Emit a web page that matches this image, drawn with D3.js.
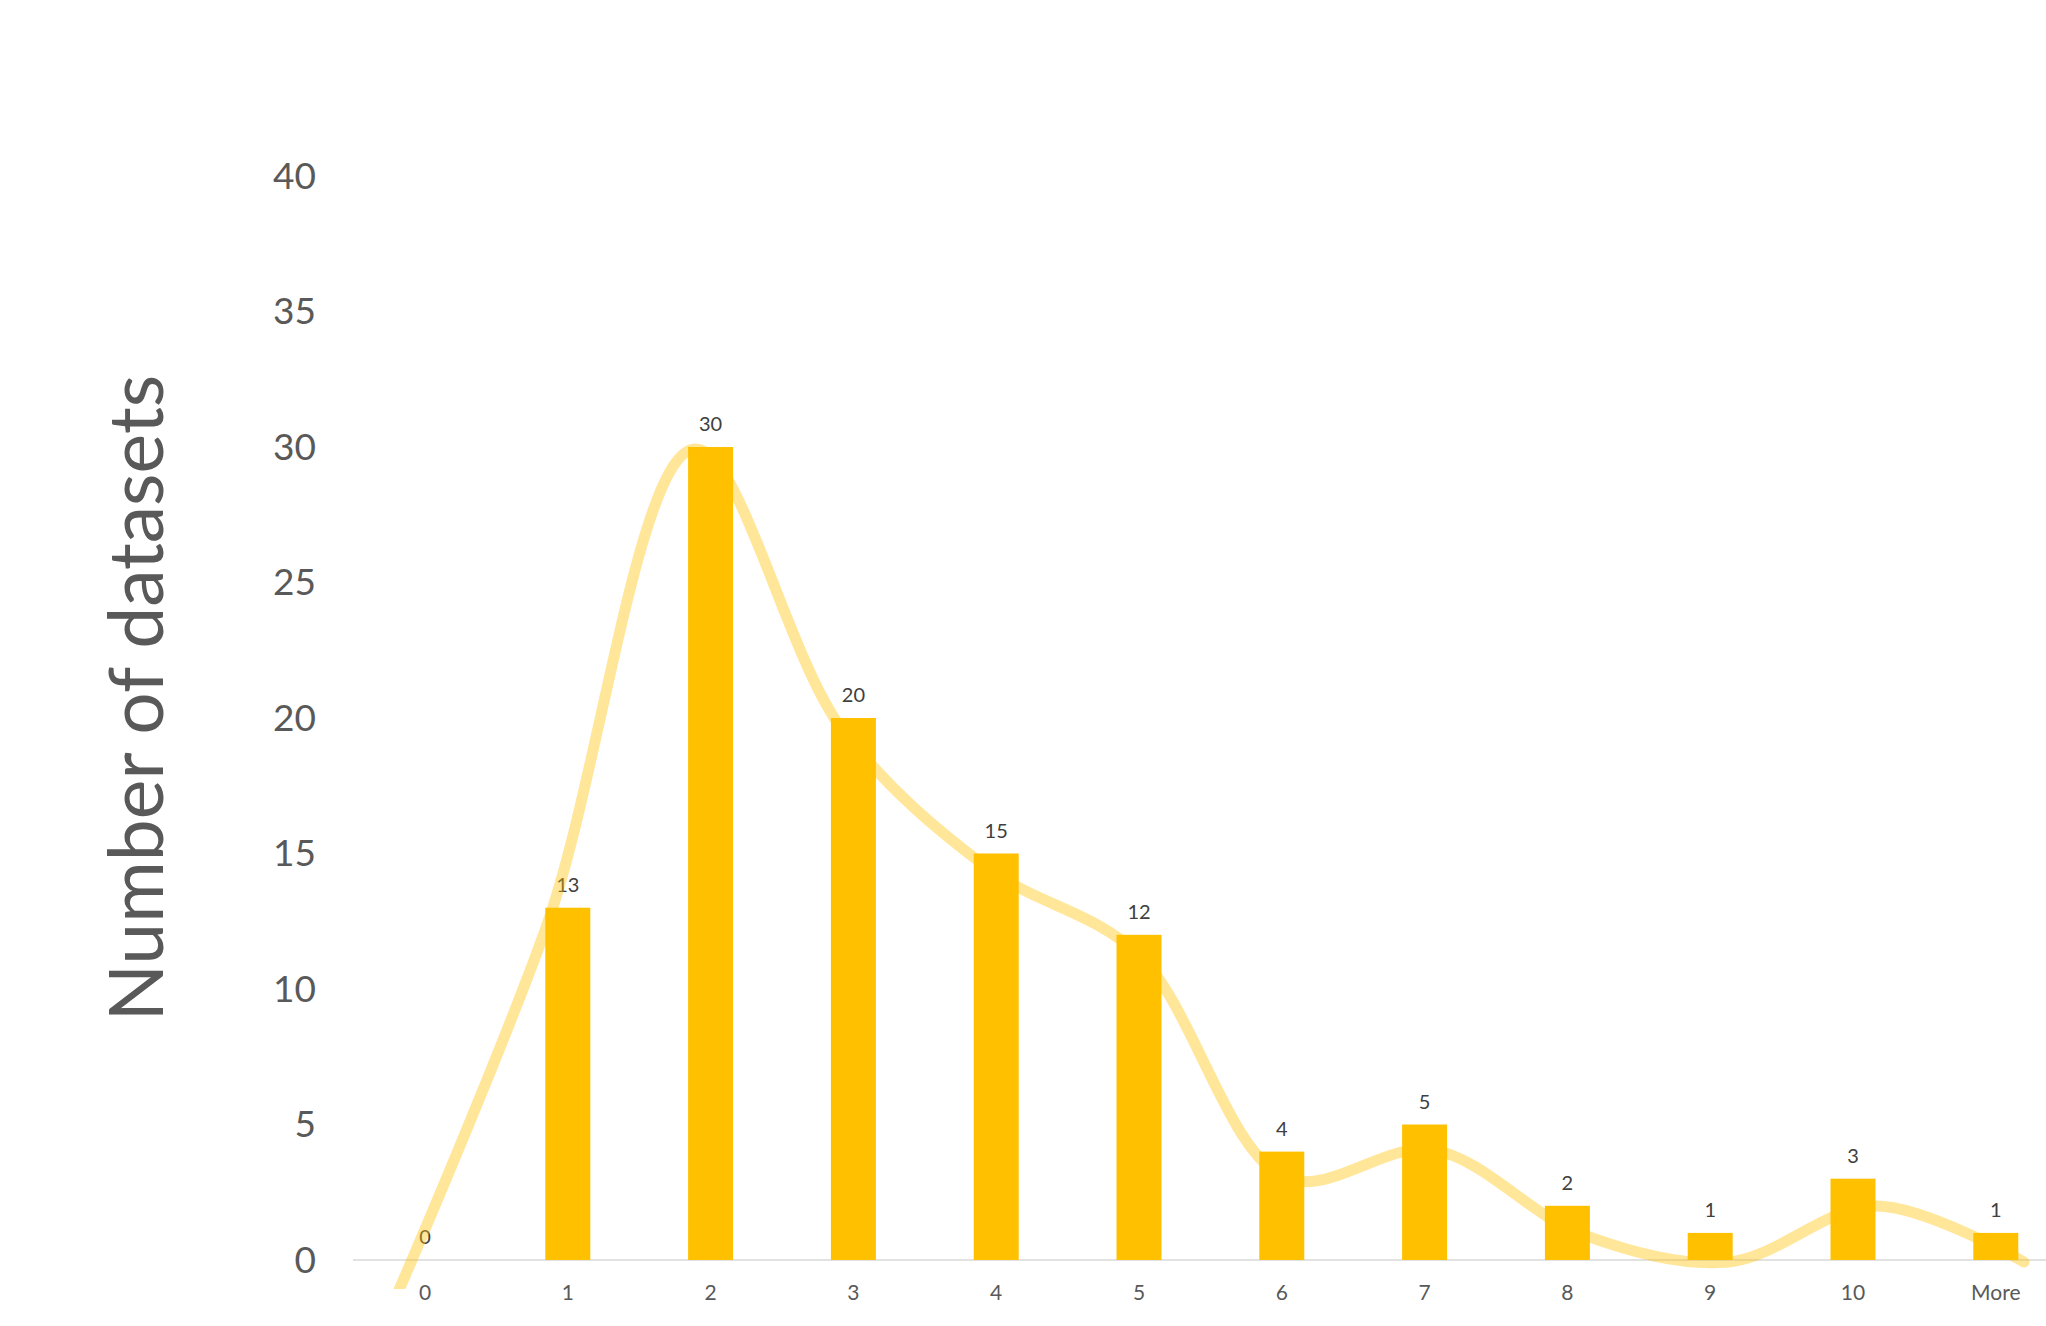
<!DOCTYPE html>
<html>
<head>
<meta charset="utf-8">
<script src="https://cdn.jsdelivr.net/npm/d3@7"></script>
<style>
  html, body { margin: 0; padding: 0; background: #ffffff; }
  svg { display: block; }
</style>
</head>
<body>
<svg id="chart" width="2046" height="1326"></svg>
<script>
// ---- data ----
const categories = ["0", "1", "2", "3", "4", "5", "6", "7", "8", "9", "10", "More"];
const counts = [0, 13, 30, 20, 15, 12, 4, 5, 2, 1, 3, 1];
const yTicks = [0, 5, 10, 15, 20, 25, 30, 35, 40];
const yTitle = "Number of datasets";

// ---- layout ----
const W = 2046, H = 1326;
const svg = d3.select("#chart");
const font = "Lato, 'Open Sans', 'Noto Sans', sans-serif";

const x = d3.scaleBand().domain(categories).range([353.6, 2067.2]).paddingInner(0.685).paddingOuter(0.3425);
const y = d3.scaleLinear().domain([0, 40]).range([1260, 176]);

// smoothed line uses its own (secondary) scales
const lx = d3.scaleLinear().domain([0, categories.length - 1]).range([399, 2024]);
const ly = d3.scaleLinear().domain([0, 30]).range([1290, 449]);

svg.append("rect").attr("width", W).attr("height", H).attr("fill", "#ffffff");

// y tick labels
svg.append("g").selectAll("text").data(yTicks).join("text")
  .attr("x", 316).attr("y", d => y(d))
  .attr("dy", "0.35em")
  .attr("text-anchor", "end")
  .attr("font-family", font).attr("font-size", 37)
  .attr("fill", "#595959")
  .text(d => d);

// y title
svg.append("text")
  .attr("transform", "translate(163,698) rotate(-90)")
  .attr("text-anchor", "middle")
  .attr("font-family", font).attr("font-size", 75)
  .attr("fill", "#595959")
  .text(yTitle);

// x axis line
svg.append("line")
  .attr("x1", 353).attr("x2", W).attr("y1", y(0)).attr("y2", y(0))
  .attr("stroke", "#d9d9d9").attr("stroke-width", 1.5);

// x tick labels
svg.append("g").selectAll("text").data(categories).join("text")
  .attr("x", d => x(d) + x.bandwidth() / 2).attr("y", 1300)
  .attr("text-anchor", "middle")
  .attr("font-family", font).attr("font-size", 21)
  .attr("fill", "#595959")
  .text(d => d);

// bars
svg.append("g").selectAll("rect").data(counts).join("rect")
  .attr("x", (d, i) => x(categories[i]))
  .attr("width", x.bandwidth())
  .attr("y", d => y(d))
  .attr("height", d => y(0) - y(d))
  .attr("fill", "#FFC000");

// data labels
svg.append("g").selectAll("text").data(counts).join("text")
  .attr("x", (d, i) => x(categories[i]) + x.bandwidth() / 2)
  .attr("y", d => y(d) - 16)
  .attr("text-anchor", "middle")
  .attr("font-family", font).attr("font-size", 20)
  .attr("fill", "#404040")
  .text(d => d);

// smoothed line (semi-transparent, on top)
svg.append("clipPath").attr("id", "plotClip")
  .append("rect").attr("x", 0).attr("y", 0).attr("width", W).attr("height", 1289);

const line = d3.line()
  .x((d, i) => lx(i))
  .y(d => ly(d))
  .curve(d3.curveCatmullRom.alpha(0.5));

svg.append("path")
  .datum(counts)
  .attr("d", line)
  .attr("clip-path", "url(#plotClip)")
  .attr("fill", "none")
  .attr("stroke", "#FFC000")
  .attr("stroke-opacity", 0.4)
  .attr("stroke-width", 11)
  .attr("stroke-linecap", "round")
  .attr("stroke-linejoin", "round");
</script>
</body>
</html>
